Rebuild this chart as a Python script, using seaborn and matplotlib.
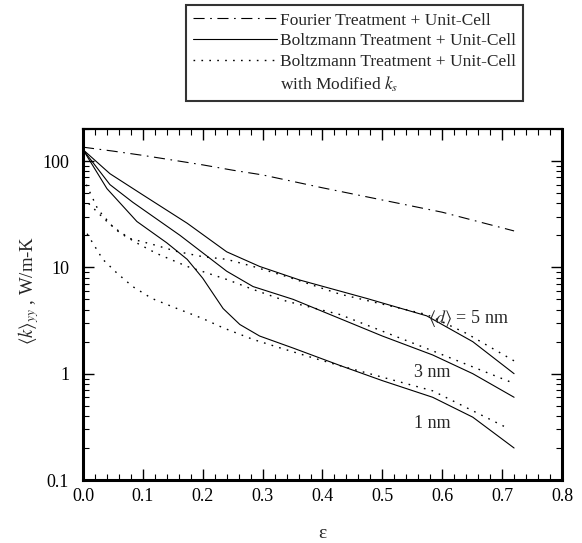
import numpy as np
import pandas as pd
import matplotlib
matplotlib.use("Agg")
import matplotlib.pyplot as plt
from matplotlib.lines import Line2D
from matplotlib.ticker import MultipleLocator, LogLocator, NullFormatter, FixedLocator, FixedFormatter
import seaborn as sns

# ---- data ----
eps_fourier = [0, 0.05, 0.10, 0.15, 0.20, 0.25, 0.30, 0.40, 0.50, 0.60, 0.72]
k_fourier = [135, 124, 113, 102, 92, 82, 74, 56, 43, 33, 22]

eps_b5 = [0, 0.045, 0.10, 0.174, 0.24, 0.295, 0.362, 0.474, 0.574, 0.651, 0.72]
k_b5 = [128, 76, 48, 26, 14, 10.2, 7.6, 5.1, 3.5, 2.0, 1.0]

eps_b3 = [0, 0.045, 0.083, 0.162, 0.24, 0.284, 0.351, 0.429, 0.50, 0.584, 0.651, 0.72]
k_b3 = [128, 60, 41, 20, 9.2, 6.6, 5.0, 3.3, 2.26, 1.5, 1.0, 0.6]

eps_b1 = [0, 0.04, 0.09, 0.14, 0.174, 0.20, 0.234, 0.262, 0.295, 0.35, 0.43, 0.50, 0.584, 0.651, 0.72]
k_b1 = [128, 55, 27, 17, 11.9, 7.9, 4.1, 2.9, 2.26, 1.75, 1.19, 0.86, 0.6, 0.39, 0.20]

eps_m5 = [0, 0.025, 0.05, 0.078, 0.117, 0.157, 0.20, 0.24, 0.284, 0.34, 0.429, 0.574, 0.64, 0.72]
k_m5 = [70, 35, 24, 18.7, 16.4, 14.1, 12.6, 11.9, 10.2, 8.2, 5.6, 3.6, 2.4, 1.32]

eps_m3 = [0, 0.037, 0.062, 0.092, 0.123, 0.174, 0.24, 0.284, 0.34, 0.429, 0.584, 0.72]
k_m3 = [45, 28, 21, 16.7, 13.5, 10.2, 7.7, 6.2, 4.8, 3.6, 1.64, 0.81]

eps_m1 = [0, 0.017, 0.033, 0.057, 0.083, 0.115, 0.157, 0.20, 0.234, 0.284, 0.329, 0.384, 0.429, 0.584, 0.708]
k_m1 = [24, 16.7, 11.9, 8.8, 6.6, 5.1, 4.1, 3.3, 2.7, 2.1, 1.75, 1.41, 1.19, 0.69, 0.31]

legend_labels = ["Fourier Treatment + Unit-Cell",
                 "Boltzmann Treatment + Unit-Cell",
                 "Boltzmann Treatment + Unit-Cell",
                 "with Modified $k_s$"]
curve_labels = [r"$\langle d\rangle$ = 5 nm", "3 nm", "1 nm"]
xticks = [0.0, 0.1, 0.2, 0.3, 0.4, 0.5, 0.6, 0.7, 0.8]
yticks = [0.1, 1, 10, 100]
ytick_labels = ["0.1", "1", "10", "100"]

# ---- style ----
sns.set_style("ticks")
plt.rcParams["font.family"] = ["Liberation Serif", "DejaVu Serif"]
plt.rcParams["mathtext.fontset"] = "stix"

fig = plt.figure(figsize=(5.82, 5.43), dpi=100)
ax = fig.add_axes([0.1426, 0.116, 0.823, 0.6464])

DASHDOT = (0, (10, 5, 1.5, 5))
DOTTED = (0, (1.2, 4.5))
series = [
    (eps_fourier, k_fourier, DASHDOT, 0.8),
    (eps_b5, k_b5, "-", 0.8),
    (eps_b3, k_b3, "-", 0.8),
    (eps_b1, k_b1, "-", 0.8),
    (eps_m5, k_m5, DOTTED, 1.0),
    (eps_m3, k_m3, DOTTED, 1.0),
    (eps_m1, k_m1, DOTTED, 1.0),
]
lines = []
for ex, kv, ls, lw in series:
    df = pd.DataFrame({"eps": ex, "k": kv})
    sns.lineplot(data=df, x="eps", y="k", ax=ax, color="black", linewidth=lw,
                 linestyle=ls, estimator=None, sort=False)
    lines.append(ax.get_lines()[-1])

ax.set_yscale("log")
ax.set_xlim(0, 0.8)
ax.set_ylim(0.1, 200)

ax.xaxis.set_major_locator(FixedLocator(xticks))
ax.set_xticklabels([f"{t:.1f}" for t in xticks])
ax.xaxis.set_minor_locator(MultipleLocator(0.02))
ax.yaxis.set_major_locator(FixedLocator(yticks))
ax.yaxis.set_major_formatter(FixedFormatter(ytick_labels))
ax.yaxis.set_minor_locator(LogLocator(base=10, subs=np.arange(2, 10)))
ax.yaxis.set_minor_formatter(NullFormatter())

ax.tick_params(which="both", direction="in", top=True, right=True, colors="black",
               labelsize=13, labelcolor="black")
ax.tick_params(which="major", length=8, width=1.0)
ax.tick_params(which="minor", length=4, width=0.8)
ax.tick_params(axis="x", which="major", pad=6)
ax.tick_params(axis="y", which="major", pad=10)

for side in ["left", "bottom", "right"]:
    ax.spines[side].set_linewidth(2.2)
    ax.spines[side].set_color("black")
ax.spines["top"].set_linewidth(1.6)
ax.spines["top"].set_color("black")
ax.spines["top"].set_visible(True)
ax.spines["right"].set_visible(True)

ax.set_xlabel("ε", fontsize=14)
ax.set_ylabel(r"$\langle k\rangle_{yy}$ , W/m-K", fontsize=13.5)
ax.xaxis.set_label_coords(0.5, -0.128)
ax.yaxis.set_label_coords(-0.087, 0.54)

ax.text(0.643, 3.3, curve_labels[0], fontsize=13, ha="center", va="center")
ax.text(0.583, 1.02, curve_labels[1], fontsize=13, ha="center", va="center")
ax.text(0.584, 0.34, curve_labels[2], fontsize=13, ha="center", va="center")

blank = Line2D([], [], color="none")
leg = fig.legend([lines[0], lines[1], lines[4], blank], legend_labels,
                 loc="upper left", bbox_to_anchor=(0.32, 0.99),
                 fontsize=12.5, frameon=True, fancybox=False,
                 handlelength=4.8, handletextpad=0.2, borderpad=0.4,
                 labelspacing=0.27, borderaxespad=0)
leg.get_frame().set_edgecolor("black")
leg.get_frame().set_linewidth(1.5)

fig.savefig("out.png", dpi=100)
